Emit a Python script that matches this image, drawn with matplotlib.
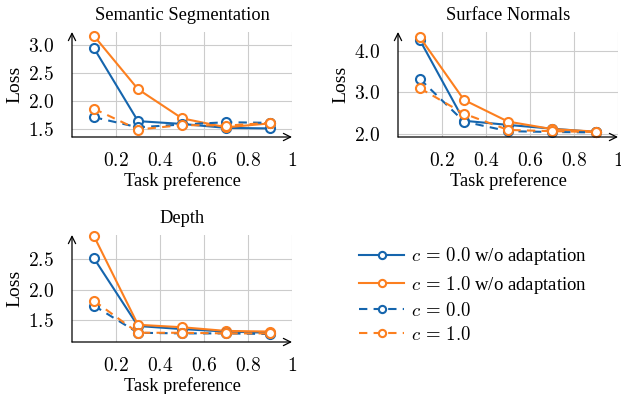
import matplotlib
matplotlib.use('Agg')
import matplotlib.pyplot as plt
from matplotlib.ticker import FuncFormatter

plt.rcParams['font.family'] = 'serif'
plt.rcParams['font.serif'] = ['Liberation Serif', 'DejaVu Serif']
plt.rcParams['mathtext.fontset'] = 'cm'
plt.rcParams['font.size'] = 13

# task preference
pref = [0.1, 0.3, 0.5, 0.7, 0.9]

# Semantic Segmentation
seg_c0_wo = [2.94, 1.64, 1.59, 1.52, 1.51]
seg_c1_wo = [3.16, 2.21, 1.69, 1.53, 1.60]
seg_c0 = [1.71, 1.53, 1.58, 1.62, 1.61]
seg_c1 = [1.86, 1.49, 1.57, 1.56, 1.61]

# Surface Normals
sn_c0_wo = [4.25, 2.32, 2.22, 2.13, 2.05]
sn_c1_wo = [4.32, 2.82, 2.30, 2.12, 2.06]
sn_c0 = [3.32, 2.30, 2.07, 2.05, 2.04]
sn_c1 = [3.10, 2.49, 2.10, 2.07, 2.05]

# Depth
dep_c0_wo = [2.51, 1.41, 1.36, 1.32, 1.30]
dep_c1_wo = [2.87, 1.43, 1.39, 1.33, 1.32]
dep_c0 = [1.74, 1.30, 1.29, 1.29, 1.28]
dep_c1 = [1.82, 1.30, 1.30, 1.29, 1.29]

blue = '#1565ad'
orange = '#fc7f1f'

fig = plt.figure(figsize=(6.21, 3.94), dpi=100)
W, H = 621.0, 394.0

def make_ax(l, r, t, b):
    return fig.add_axes([l / W, 1 - b / H, (r - l) / W, (b - t) / H])

def style_ax(ax, title, ylim, yticks):
    ax.set_xlim(0, 1)
    ax.set_ylim(*ylim)
    ax.set_xticks([0.2, 0.4, 0.6, 0.8, 1.0])
    ax.set_yticks(yticks)
    ax.xaxis.set_major_formatter(FuncFormatter(lambda v, p: '$1$' if abs(v - 1) < 1e-9 else '$%.1f$' % v))
    ax.yaxis.set_major_formatter(FuncFormatter(lambda v, p: '$%.1f$' % v))
    ax.grid(True, color='#cccccc', linewidth=0.8)
    ax.set_axisbelow(True)
    ax.tick_params(axis='x', length=0, pad=11, labelsize=14)
    ax.tick_params(axis='y', length=0, pad=13, labelsize=14)
    for s in ax.spines.values():
        s.set_visible(False)
    ax.annotate('', xy=(1.0, 0), xytext=(0, 0), xycoords='axes fraction',
                arrowprops=dict(arrowstyle='->', color='black', lw=0.9, shrinkA=0, shrinkB=0))
    ax.annotate('', xy=(0, 1.0), xytext=(0, 0), xycoords='axes fraction',
                arrowprops=dict(arrowstyle='->', color='black', lw=0.9, shrinkA=0, shrinkB=0))
    ax.set_title(title, fontsize=13.2, pad=9)
    ax.set_xlabel('Task preference', fontsize=13.2, labelpad=1)
    ax.set_ylabel('Loss', fontsize=14, labelpad=3)

def draw(ax, a, b, c, d):
    kw = dict(marker='o', markersize=6.5, markerfacecolor='white', markeredgewidth=1.5, linewidth=1.5, clip_on=False)
    ax.plot(pref, a, color=blue, label=r'$c\,=\,0.0$ w/o adaptation', zorder=3, **kw)
    ax.plot(pref, b, color=orange, label=r'$c\,=\,1.0$ w/o adaptation', zorder=3, **kw)
    ax.plot(pref, c, color=blue, dashes=(4, 3), label=r'$c\,=\,0.0$', zorder=3, **kw)
    ax.plot(pref, d, color=orange, dashes=(4, 3), label=r'$c\,=\,1.0$', zorder=3, **kw)

ax1 = make_ax(72, 292, 32, 137)
draw(ax1, seg_c0_wo, seg_c1_wo, seg_c0, seg_c1)
style_ax(ax1, 'Semantic Segmentation', (1.357, 3.23), [1.5, 2.0, 2.5, 3.0])

ax2 = make_ax(398, 618, 32, 137)
draw(ax2, sn_c0_wo, sn_c1_wo, sn_c0, sn_c1)
style_ax(ax2, 'Surface Normals', (1.93, 4.45), [2.0, 3.0, 4.0])

ax3 = make_ax(72, 292, 235, 342)
draw(ax3, dep_c0_wo, dep_c1_wo, dep_c0, dep_c1)
style_ax(ax3, 'Depth', (1.15, 2.89), [1.5, 2.0, 2.5])

handles, labels = ax3.get_legend_handles_labels()
fig.legend(handles, labels, loc='upper left', bbox_to_anchor=(350 / W, 1 - 236 / H),
           frameon=False, fontsize=13.5, markerscale=0.8, handlelength=2.4,
           handletextpad=0.35, labelspacing=0.33, borderpad=0)

fig.savefig('out.png', dpi=100)
